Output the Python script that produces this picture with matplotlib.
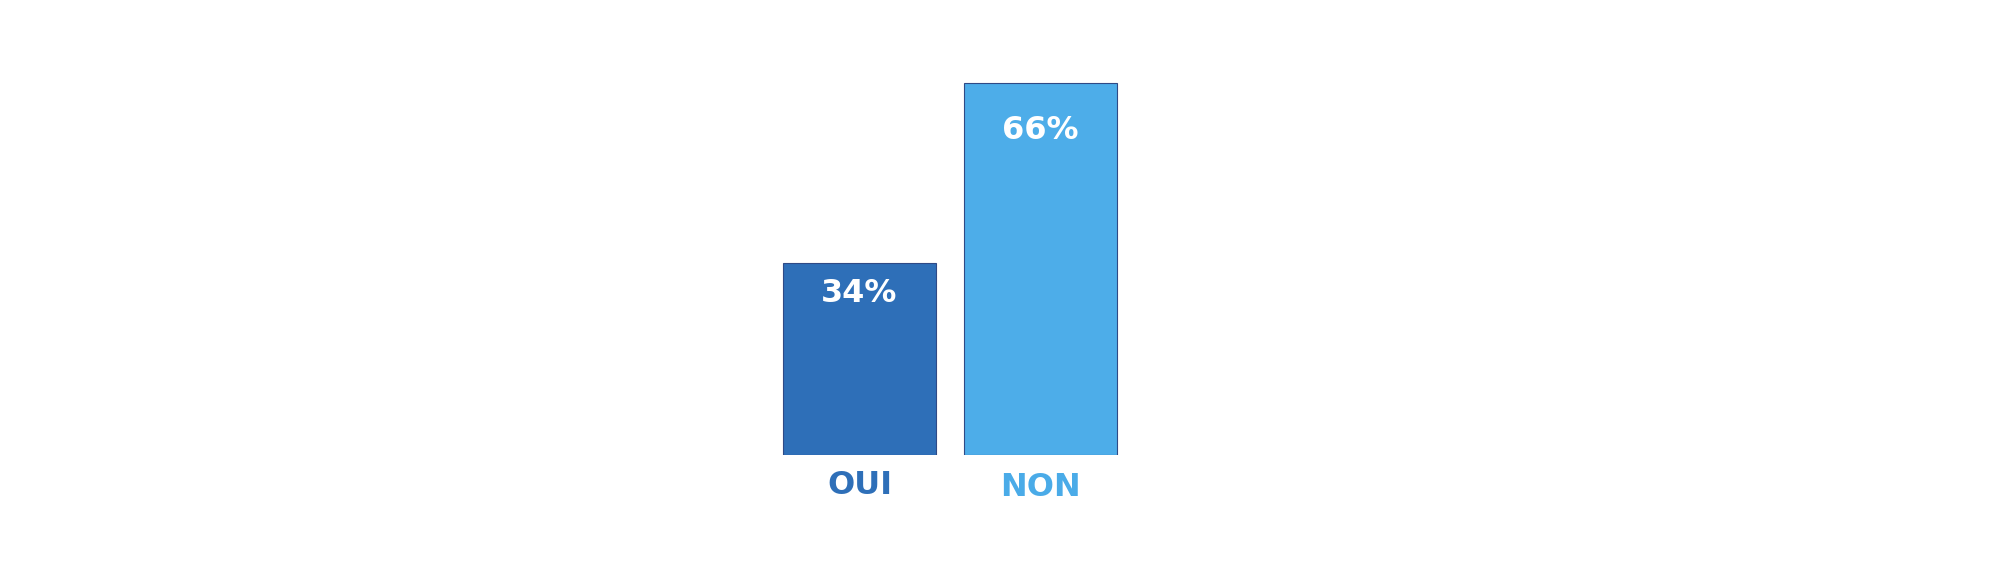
import matplotlib.pyplot as plt

categories = ['OUI', 'NON']
values = [34, 66]
value_labels = ['34%', '66%']

bar_colors = ['#2E6FB8', '#4DADE9']
label_colors = ['#2E6FB8', '#4AABE8']
# décalages (pixels) des textes
value_offsets = [-30, -47]
cat_offsets = [-30, -33]

fig = plt.figure(figsize=(20.12, 5.82), dpi=100)
ax = fig.add_axes([769 / 2012, 127 / 582, 362 / 2012, 70 * 5.636 / 582])

x = list(range(len(categories)))
ax.bar(x, values, width=0.845, color=bar_colors, edgecolor='#2F4A86', linewidth=0.8)
ax.set_xlim(-0.5, 1.5)
ax.set_ylim(0, 70)
ax.axis('off')

for i in x:
    ax.annotate(value_labels[i], (i, values[i]), xytext=(0, value_offsets[i]),
                textcoords='offset pixels', ha='center', va='center',
                color='white', fontsize=23, fontweight='bold', family='DejaVu Sans')
    ax.annotate(categories[i], (i, 0), xytext=(0, cat_offsets[i]),
                textcoords='offset pixels', ha='center', va='center',
                color=label_colors[i], fontsize=23, fontweight='bold', family='DejaVu Sans',
                annotation_clip=False)

fig.savefig('out.png', dpi=100, facecolor='white')
